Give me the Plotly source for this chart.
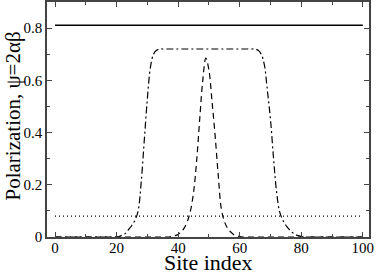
import plotly.graph_objects as go

sites = list(range(0, 101))

solid_level = 0.811
dotted_level = 0.08

# dash-dot plateau profile (site -> value)
plateau_pts = {
    20: 0.0, 21: 0.003, 22: 0.008, 23: 0.015, 24: 0.03, 25: 0.045, 26: 0.065,
    27: 0.10, 28: 0.21, 29: 0.37, 30: 0.53, 31: 0.65, 32: 0.70, 33: 0.715,
    34: 0.72, 65: 0.72, 66: 0.715, 67: 0.70, 68: 0.66, 69: 0.56, 70: 0.45,
    71: 0.30, 72: 0.17, 73: 0.095, 74: 0.065, 75: 0.045, 76: 0.03, 77: 0.018,
    78: 0.01, 79: 0.005, 80: 0.002, 81: 0.0,
}
# dashed peak profile
peak_pts = {
    37: 0.0, 38: 0.002, 39: 0.005, 40: 0.01, 41: 0.02, 42: 0.035, 43: 0.06,
    44: 0.10, 45: 0.17, 46: 0.29, 47: 0.45, 48: 0.60, 49: 0.685, 50: 0.64,
    51: 0.52, 52: 0.39, 53: 0.24, 54: 0.11, 55: 0.06, 56: 0.035, 57: 0.02,
    58: 0.01, 59: 0.005, 60: 0.002, 61: 0.0,
}

def lookup(pts, s):
    keys = sorted(pts)
    if s <= keys[0] or s >= keys[-1]:
        return pts[keys[0]] if s <= keys[0] else pts[keys[-1]]
    if s in pts:
        return pts[s]
    prev = max(k for k in keys if k < s)
    return pts[prev]

plateau = [lookup(plateau_pts, s) for s in sites]
peak = [lookup(peak_pts, s) for s in sites]
solid = [solid_level for s in sites]
dotted = [dotted_level for s in sites]

x_ticks = [0, 20, 40, 60, 80, 100]
y_ticks = [0, 0.2, 0.4, 0.6, 0.8]
y_labels = ["0", "0.2", "0.4", "0.6", "0.8"]

x_title = "Site index"
y_title = "Polarization, ψ=2αβ"

fig = go.Figure()
fig.add_trace(go.Scatter(x=sites, y=solid, mode="lines",
                         line=dict(color="black", width=1.3)))
fig.add_trace(go.Scatter(x=sites, y=dotted, mode="lines",
                         line=dict(color="black", width=1.2, dash="1px,3px")))
fig.add_trace(go.Scatter(x=sites, y=plateau, mode="lines", line_shape="spline",
                         line=dict(color="black", width=1.2, dash="7px,3px,2px,3px")))
fig.add_trace(go.Scatter(x=sites, y=peak, mode="lines", line_shape="spline",
                         line=dict(color="black", width=1.2, dash="6px,4px")))

font = "Liberation Serif"
fig.update_layout(
    width=382, height=272,
    margin=dict(l=47, r=13, t=2, b=35, autoexpand=False),
    paper_bgcolor="white", plot_bgcolor="white",
    showlegend=False,
    font=dict(family=font, color="black", size=15),
)
common = dict(
    ticks="inside", ticklen=5, tickwidth=1, tickcolor="#444",
    showline=True, linecolor="#444", linewidth=1.5, mirror="ticks",
    showgrid=False, zeroline=False, automargin=False,
    tickfont=dict(family=font, size=15, color="black"),
)
fig.update_xaxes(
    range=[-2.6, 102], tickvals=x_ticks, ticktext=[str(v) for v in x_ticks],
    minor=dict(ticks="inside", ticklen=3, dtick=10, tick0=0, tickcolor="#444"),
    ticklabelstandoff=-4, **common,
)
fig.update_yaxes(
    range=[0, 0.9], tickvals=y_ticks, ticktext=y_labels,
    minor=dict(ticks="inside", ticklen=3, dtick=0.1, tick0=0, tickcolor="#444"),
    ticklabelstandoff=0, **common,
)
fig.add_annotation(text=x_title, xref="paper", yref="paper", x=0.5, y=0,
                   yshift=-11, xanchor="center", yanchor="top", showarrow=False,
                   font=dict(family=font, size=22, color="black"))
fig.add_annotation(text=y_title, xref="paper", yref="paper", x=0, y=0.5,
                   xshift=-21, yshift=3, xanchor="right", yanchor="middle",
                   showarrow=False, textangle=-90,
                   font=dict(family=font, size=21, color="black"))

fig.write_html("out.html", config={"displayModeBar": False},
               post_script="document.body.style.margin='0';document.body.style.padding='0';")
